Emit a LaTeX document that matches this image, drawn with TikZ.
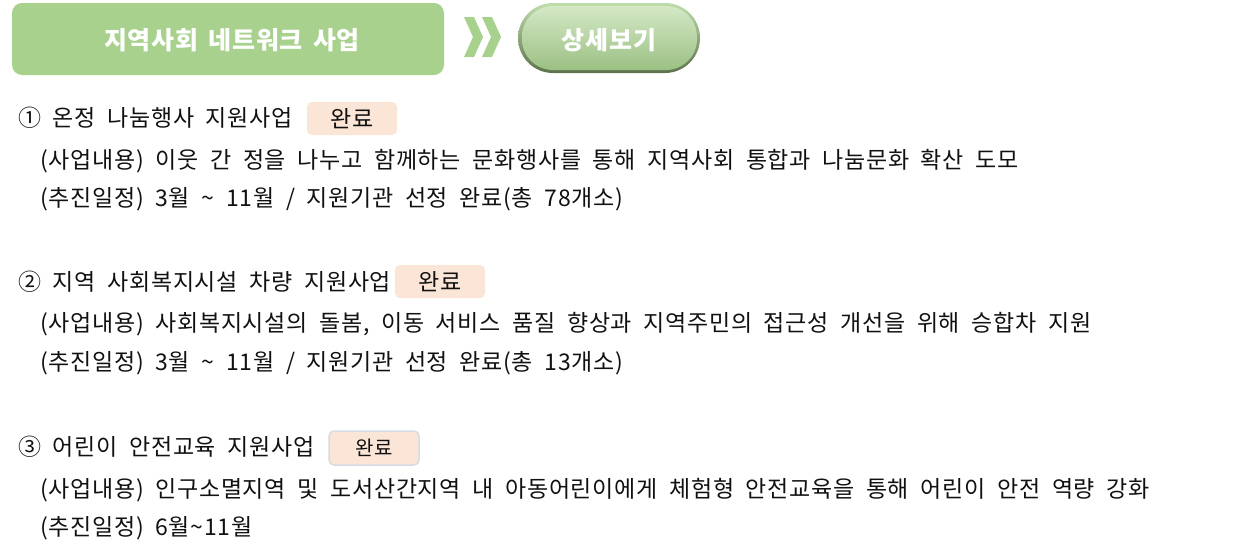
\documentclass[tikz,border=0pt]{standalone}
\usepackage{fontspec}
\setmainfont{Noto Sans CJK KR}[LetterSpace=3,WordSpace=2]
\newfontfamily\hdrfont{Noto Sans CJK KR}[LetterSpace=3,WordSpace=1.6]
\definecolor{hdr}{HTML}{A9D18E}
\definecolor{badge}{HTML}{FBE5D6}
\definecolor{badgeline}{HTML}{D6DCE4}
\definecolor{txt}{HTML}{111111}
\tikzset{
  body/.style={anchor=base west, inner sep=0pt, text=txt, font=\fontsize{23}{27}\selectfont},
  badgebox/.style={fill=badge, rounded corners=5pt, draw=none},
  badgetxt/.style={inner sep=0pt, text=txt, font=\fontsize{23}{27}\selectfont},
  chev/.style={fill=hdr, draw=none},
  whitebold/.style={text=white, font=\hdrfont\fontsize{25}{29}\selectfont\bfseries},
}
\begin{document}
\begin{tikzpicture}[x=1pt,y=-1pt]
\useasboundingbox (0,0) rectangle (1235,557);
% header
\fill[hdr, rounded corners=10pt] (12,3) rectangle (444,75);
\node[whitebold] (title) at (232,40) {지역사회 네트워크 사업};
% chevrons
\fill[chev] (464,17) -- (474,17) -- (483,37) -- (474,57) -- (464,57) -- (473,37) -- cycle;
\fill[chev] (482,17) -- (492,17) -- (501,37) -- (492,57) -- (482,57) -- (491,37) -- cycle;
% button
\shade[rounded corners=35pt, top color=hdr!75!white, bottom color=hdr!55!black] (518,3) rectangle (700,73);
\shade[rounded corners=31pt, top color=hdr!50!white, middle color=hdr, bottom color=hdr!92!black] (522,6) rectangle (697,70);
\node[whitebold] (btn) at (609,40) {상세보기};
% item 1
\node[body] (i1) at (18,126) {① 온정 나눔행사 지원사업};
\fill[badgebox] (307,102) rectangle (397,135);
\node[badgetxt] (b1) at (352,118.5) {완료};
\node[body] (i1a) at (40,168) {(사업내용) 이웃 간 정을 나누고 함께하는 문화행사를 통해 지역사회 통합과 나눔문화 확산 도모};
\node[body] (i1b) at (40,206) {(추진일정) 3월 \textasciitilde{} 11월 / 지원기관 선정 완료(총 78개소)};
% item 2
\node[body] (i2) at (18,290) {② 지역 사회복지시설 차량 지원사업};
\fill[badgebox] (395,265) rectangle (485,298);
\node[badgetxt] (b2) at (440,281.5) {완료};
\node[body] (i2a) at (40,331) {(사업내용) 사회복지시설의 돌봄, 이동 서비스 품질 향상과 지역주민의 접근성 개선을 위해 승합차 지원};
\node[body] (i2b) at (40,370) {(추진일정) 3월 \textasciitilde{} 11월 / 지원기관 선정 완료(총 13개소)};
% item 3
\node[body] (i3) at (18,455) {③ 어린이 안전교육 지원사업};
\draw[fill=badge, draw=badgeline, line width=1.5pt, rounded corners=5pt] (329,431) rectangle (419,465);
\node[badgetxt, font=\fontsize{20}{24}\selectfont] (b3) at (374,448) {완료};
\node[body] (i3a) at (40,497) {(사업내용) 인구소멸지역 및 도서산간지역 내 아동어린이에게 체험형 안전교육을 통해 어린이 안전 역량 강화};
\node[body] (i3b) at (40,535) {(추진일정) 6월\textasciitilde{}11월};
\end{tikzpicture}
\end{document}
